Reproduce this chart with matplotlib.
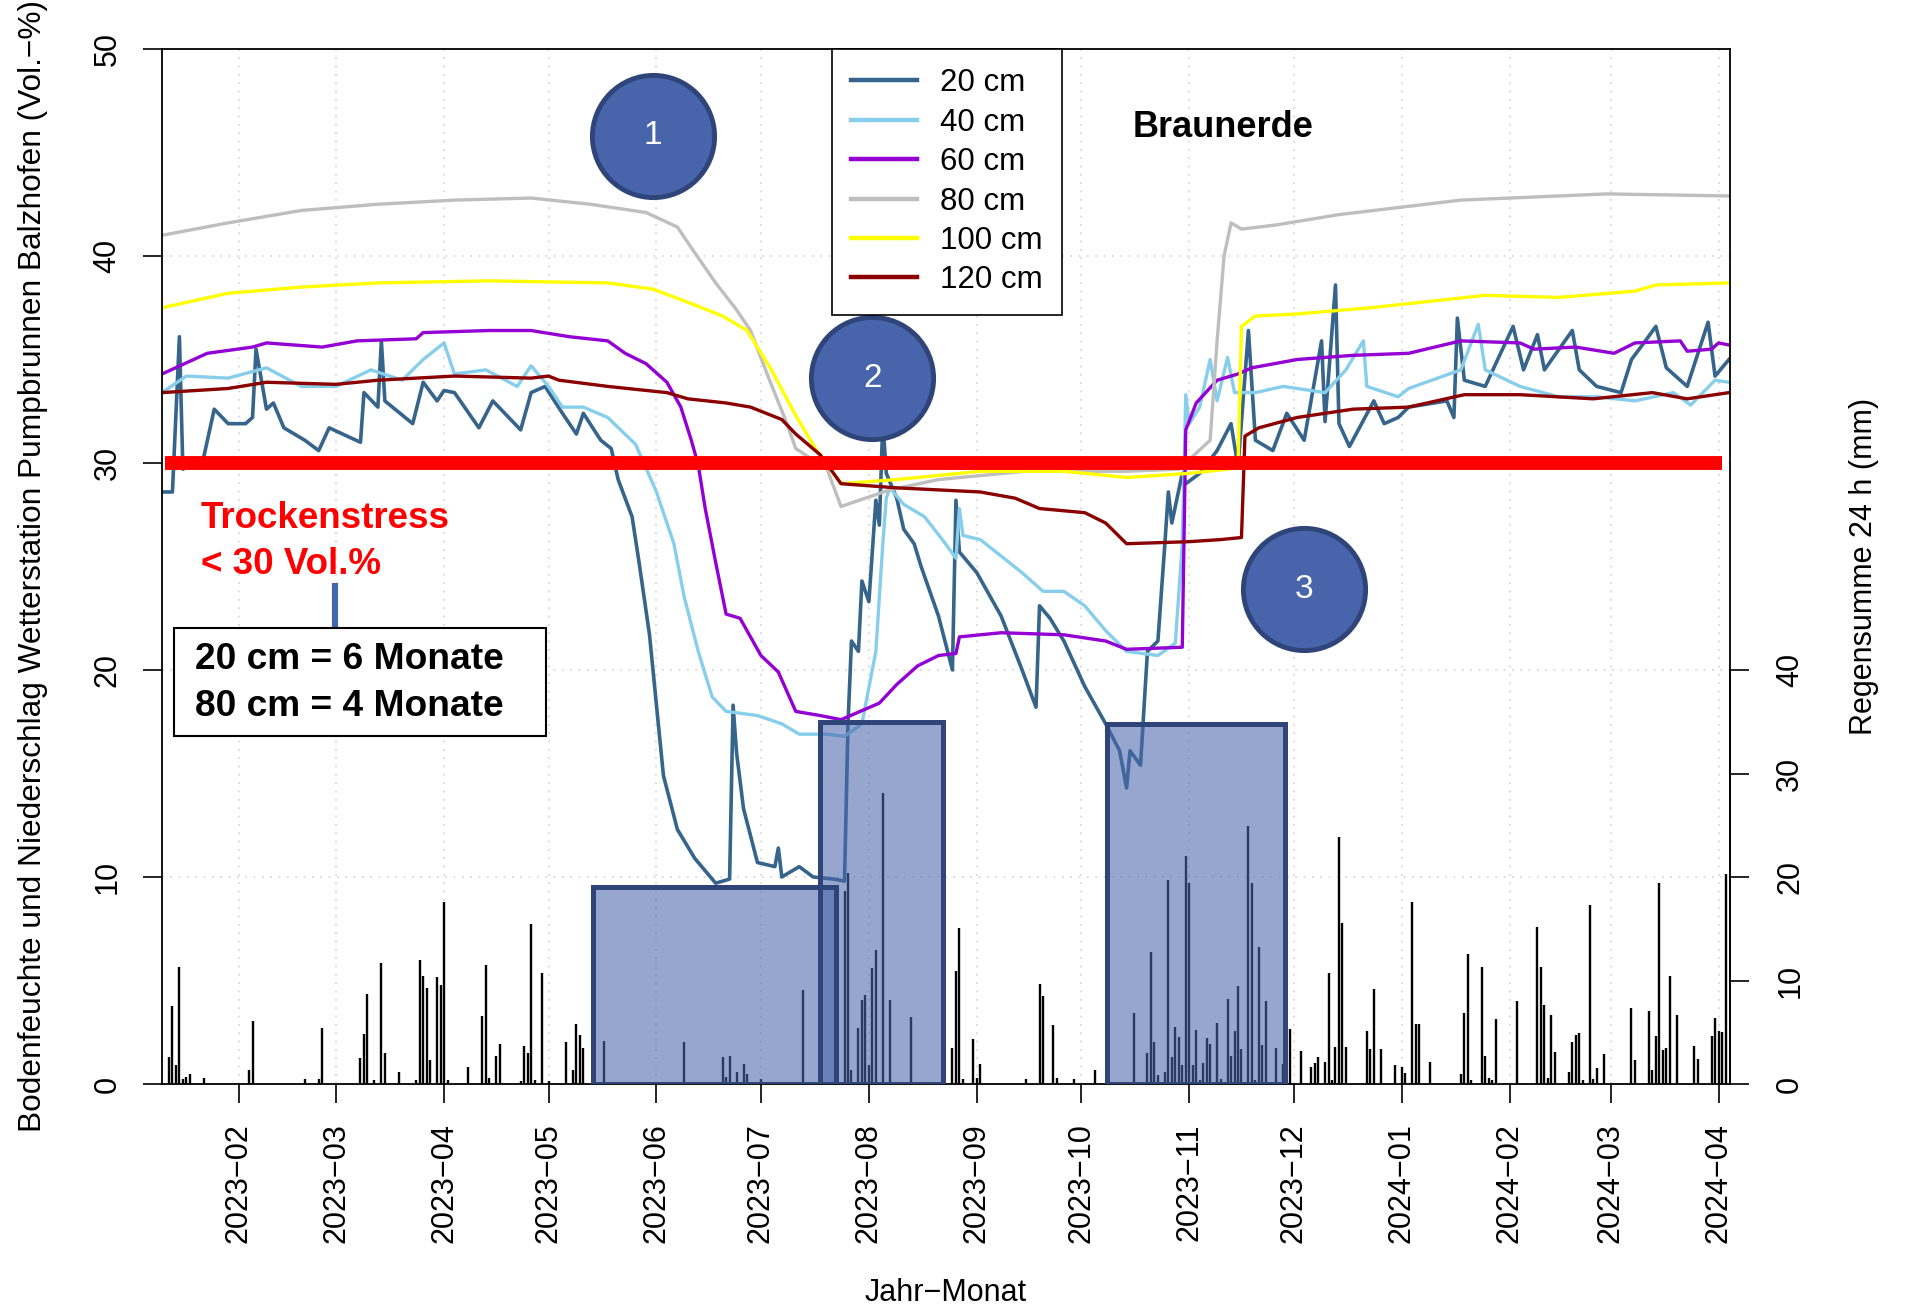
import matplotlib
matplotlib.use("Agg")
import matplotlib.pyplot as plt
import matplotlib.dates as mdates
import pandas as pd
from matplotlib.patches import Rectangle
from matplotlib.lines import Line2D

plt.rcParams['font.family'] = ['Liberation Sans', 'DejaVu Sans']

# ---------------- soil moisture (Vol.-%) ----------------
d20 = ["2023-01-10", "2023-01-13", "2023-01-15", "2023-01-16", "2023-01-22", "2023-01-25", "2023-01-29",
       "2023-02-03", "2023-02-05", "2023-02-06", "2023-02-09", "2023-02-11", "2023-02-14", "2023-02-20",
       "2023-02-24", "2023-02-27", "2023-03-08", "2023-03-09", "2023-03-13", "2023-03-14", "2023-03-15",
       "2023-03-23", "2023-03-26", "2023-03-30", "2023-04-01", "2023-04-04", "2023-04-11", "2023-04-15",
       "2023-04-23", "2023-04-26", "2023-04-30", "2023-05-05", "2023-05-09", "2023-05-11", "2023-05-16",
       "2023-05-19", "2023-05-21", "2023-05-25", "2023-05-27", "2023-05-30", "2023-06-01", "2023-06-03",
       "2023-06-07", "2023-06-12", "2023-06-18", "2023-06-22", "2023-06-23", "2023-06-24", "2023-06-26",
       "2023-06-30", "2023-07-05", "2023-07-06", "2023-07-07", "2023-07-12", "2023-07-16", "2023-07-22",
       "2023-07-25", "2023-07-26", "2023-07-27", "2023-07-29", "2023-07-30", "2023-08-01", "2023-08-03",
       "2023-08-04", "2023-08-05", "2023-08-06", "2023-08-09", "2023-08-11", "2023-08-14", "2023-08-16",
       "2023-08-21", "2023-08-25", "2023-08-26", "2023-08-27", "2023-09-01", "2023-09-08", "2023-09-14",
       "2023-09-18", "2023-09-19", "2023-09-22", "2023-09-26", "2023-10-02", "2023-10-08", "2023-10-12",
       "2023-10-14", "2023-10-15", "2023-10-18", "2023-10-20", "2023-10-23", "2023-10-25", "2023-10-26",
       "2023-10-27", "2023-10-30", "2023-10-31", "2023-11-04", "2023-11-09", "2023-11-13", "2023-11-15",
       "2023-11-18", "2023-11-20", "2023-11-25", "2023-11-29", "2023-12-04", "2023-12-09", "2023-12-10",
       "2023-12-13", "2023-12-14", "2023-12-17", "2023-12-24", "2023-12-27", "2023-12-31", "2024-01-03",
       "2024-01-14", "2024-01-16", "2024-01-17", "2024-01-19", "2024-01-25", "2024-02-02", "2024-02-05",
       "2024-02-09", "2024-02-11", "2024-02-19", "2024-02-21", "2024-02-26", "2024-03-04", "2024-03-07",
       "2024-03-11", "2024-03-14", "2024-03-17", "2024-03-23", "2024-03-29", "2024-03-31", "2024-04-04"]
v20 = [28.6, 28.6, 36.1, 29.7, 30.3, 32.6, 31.9,
       31.9, 32.2, 35.5, 32.6, 32.9, 31.7, 31.1,
       30.6, 31.7, 31.0, 33.4, 32.7, 35.9, 33.0,
       31.9, 33.9, 33.0, 33.5, 33.4, 31.7, 33.0,
       31.6, 33.4, 33.7, 32.4, 31.4, 32.4, 31.1,
       30.7, 29.2, 27.4, 25.2, 21.7, 18.3, 14.9,
       12.3, 10.9, 9.7, 9.9, 18.3, 16.0, 13.3,
       10.7, 10.5, 11.4, 10.0, 10.5, 10.0, 9.9,
       9.8, 17.4, 21.4, 20.9, 24.3, 23.3, 28.2,
       27.0, 32.0, 29.5, 28.3, 26.8, 26.1, 25.0,
       22.6, 20.0, 28.2, 25.7, 24.7, 22.6, 20.0,
       18.2, 23.1, 22.5, 21.4, 19.2, 17.4, 16.1,
       14.3, 16.1, 15.4, 20.9, 21.4, 26.1, 28.6,
       27.1, 29.5, 29.0, 29.5, 30.6, 31.9, 29.8,
       36.4, 31.1, 30.6, 32.4, 31.1, 35.9, 32.0,
       38.6, 31.9, 30.8, 33.0, 31.9, 32.2, 32.7,
       33.0, 32.2, 37.0, 34.0, 33.7, 36.6, 34.5,
       36.2, 34.5, 36.4, 34.5, 33.7, 33.4, 35.0,
       35.9, 36.6, 34.6, 33.7, 36.8, 34.2, 35.0]

d40 = ["2023-01-10", "2023-01-17", "2023-01-29", "2023-02-09", "2023-02-19", "2023-03-01", "2023-03-11",
       "2023-03-20", "2023-03-26", "2023-04-01", "2023-04-04", "2023-04-13", "2023-04-22", "2023-04-26",
       "2023-05-01", "2023-05-05", "2023-05-11", "2023-05-18", "2023-05-26", "2023-06-01", "2023-06-06",
       "2023-06-09", "2023-06-13", "2023-06-17", "2023-06-21", "2023-06-30", "2023-07-07", "2023-07-12",
       "2023-07-20", "2023-07-25", "2023-07-30", "2023-08-03", "2023-08-05", "2023-08-06", "2023-08-07",
       "2023-08-11", "2023-08-17", "2023-08-23", "2023-08-26", "2023-08-27", "2023-08-28", "2023-09-02",
       "2023-09-14", "2023-09-20", "2023-09-26", "2023-10-02", "2023-10-08", "2023-10-14", "2023-10-23",
       "2023-10-28", "2023-10-30", "2023-10-31", "2023-11-01", "2023-11-04", "2023-11-07", "2023-11-09",
       "2023-11-12", "2023-11-14", "2023-11-20", "2023-11-28", "2023-12-10", "2023-12-16", "2023-12-21",
       "2023-12-22", "2023-12-31", "2024-01-03", "2024-01-18", "2024-01-23", "2024-01-25", "2024-02-04",
       "2024-02-15", "2024-02-26", "2024-03-08", "2024-03-19", "2024-03-24", "2024-03-31", "2024-04-04"]
v40 = [33.4, 34.2, 34.1, 34.6, 33.7, 33.7, 34.5,
       34.0, 35.0, 35.8, 34.3, 34.5, 33.7, 34.7,
       33.7, 32.7, 32.7, 32.2, 30.9, 28.6, 26.1,
       23.5, 20.9, 18.7, 18.0, 17.8, 17.4, 16.9,
       16.9, 16.8, 17.4, 20.9, 26.1, 28.3, 28.8,
       28.0, 27.4, 26.1, 25.4, 27.8, 26.5, 26.3,
       24.7, 23.8, 23.8, 23.1, 21.9, 20.9, 20.7,
       21.3, 26.1, 33.3, 31.9, 32.7, 35.0, 33.0,
       35.1, 33.4, 33.4, 33.7, 33.4, 34.5, 35.9,
       33.7, 33.2, 33.6, 34.5, 36.7, 34.5, 33.7,
       33.2, 33.2, 33.0, 33.4, 32.8, 34.0, 33.9]

d60 = ["2023-01-10", "2023-01-23", "2023-02-05", "2023-02-09", "2023-02-25", "2023-03-07", "2023-03-24",
       "2023-03-26", "2023-04-14", "2023-04-26", "2023-05-07", "2023-05-18", "2023-05-23", "2023-05-29",
       "2023-06-04", "2023-06-08", "2023-06-11", "2023-06-13", "2023-06-15", "2023-06-18", "2023-06-21",
       "2023-06-25", "2023-07-01", "2023-07-06", "2023-07-11", "2023-07-18", "2023-07-24", "2023-08-04",
       "2023-08-09", "2023-08-15", "2023-08-21", "2023-08-26", "2023-08-27", "2023-09-08", "2023-09-26",
       "2023-10-08", "2023-10-14", "2023-10-30", "2023-10-31", "2023-11-03", "2023-11-09", "2023-11-15",
       "2023-11-19", "2023-12-02", "2023-12-18", "2024-01-03", "2024-01-18", "2024-02-04", "2024-02-08",
       "2024-02-20", "2024-03-02", "2024-03-08", "2024-03-21", "2024-03-23", "2024-03-30", "2024-04-01",
       "2024-04-04"]
v60 = [34.3, 35.3, 35.6, 35.8, 35.6, 35.9, 36.0,
       36.3, 36.4, 36.4, 36.1, 35.9, 35.3, 34.8,
       33.9, 32.7, 31.1, 29.9, 27.8, 25.2, 22.7,
       22.5, 20.7, 19.9, 18.0, 17.8, 17.6, 18.4,
       19.3, 20.2, 20.7, 20.8, 21.6, 21.8, 21.7,
       21.4, 21.0, 21.1, 31.6, 32.9, 34.0, 34.3,
       34.6, 35.0, 35.2, 35.3, 35.9, 35.8, 35.5,
       35.6, 35.3, 35.8, 35.9, 35.4, 35.5, 35.8,
       35.7]

d80 = ["2023-01-10", "2023-01-29", "2023-02-19", "2023-03-13", "2023-04-04", "2023-04-26", "2023-05-13",
       "2023-05-29", "2023-06-07", "2023-06-11", "2023-06-18", "2023-06-24", "2023-06-28", "2023-07-03",
       "2023-07-08", "2023-07-11", "2023-07-20", "2023-07-24", "2023-08-07", "2023-08-21", "2023-09-15",
       "2023-10-14", "2023-10-29", "2023-11-07", "2023-11-09", "2023-11-11", "2023-11-13", "2023-11-16",
       "2023-11-26", "2023-12-14", "2024-01-18", "2024-02-29", "2024-04-04"]
v80 = [41.0, 41.6, 42.2, 42.5, 42.7, 42.8, 42.5,
       42.1, 41.4, 40.4, 38.7, 37.4, 36.4, 34.2,
       32.1, 30.7, 29.7, 27.9, 28.7, 29.2, 29.6,
       29.6, 29.7, 31.1, 35.9, 40.0, 41.6, 41.3,
       41.5, 42.0, 42.7, 43.0, 42.9]

d100 = ["2023-01-10", "2023-01-29", "2023-02-19", "2023-03-13", "2023-04-14", "2023-05-18", "2023-05-31",
        "2023-06-11", "2023-06-20", "2023-06-27", "2023-07-04", "2023-07-11", "2023-07-17", "2023-07-24",
        "2023-08-09", "2023-09-02", "2023-09-26", "2023-10-14", "2023-11-01", "2023-11-12", "2023-11-15",
        "2023-11-16", "2023-11-20", "2023-12-02", "2023-12-23", "2024-01-25", "2024-02-15", "2024-03-08",
        "2024-03-14", "2024-04-04"]
v100 = [37.5, 38.2, 38.5, 38.7, 38.8, 38.7, 38.4,
        37.7, 37.1, 36.4, 34.5, 32.3, 30.6, 29.0,
        29.2, 29.6, 29.6, 29.3, 29.5, 29.7, 29.8,
        36.6, 37.1, 37.2, 37.5, 38.1, 38.0, 38.3,
        38.6, 38.7]

d120 = ["2023-01-10", "2023-01-29", "2023-02-09", "2023-03-01", "2023-03-13", "2023-04-04", "2023-04-26",
        "2023-05-01", "2023-05-04", "2023-05-18", "2023-06-04", "2023-06-10", "2023-06-21", "2023-06-28",
        "2023-07-07", "2023-07-11", "2023-07-18", "2023-07-24", "2023-08-09", "2023-09-02", "2023-09-12",
        "2023-09-19", "2023-10-02", "2023-10-08", "2023-10-14", "2023-11-01", "2023-11-10", "2023-11-16",
        "2023-11-17", "2023-11-21", "2023-12-02", "2023-12-18", "2024-01-03", "2024-01-19", "2024-02-04",
        "2024-02-25", "2024-03-13", "2024-03-23", "2024-04-04"]
v120 = [33.4, 33.6, 33.9, 33.8, 34.0, 34.2, 34.1,
        34.2, 34.0, 33.7, 33.4, 33.1, 32.9, 32.7,
        32.1, 31.4, 30.4, 29.0, 28.8, 28.6, 28.3,
        27.8, 27.6, 27.1, 26.1, 26.2, 26.3, 26.4,
        31.3, 31.7, 32.2, 32.6, 32.7, 33.3, 33.3,
        33.1, 33.4, 33.1, 33.4]

depth_labels = ["20 cm", "40 cm", "60 cm", "80 cm", "100 cm", "120 cm"]
depth_colors = ["#36648B", "#87CEEB", "#9400D3", "#BEBEBE", "#FFFF00", "#8B0000"]

# ---------------- daily precipitation (mm) ----------------
rain_dates = ["2023-01-12", "2023-01-13", "2023-01-14", "2023-01-15", "2023-01-16", "2023-01-17", "2023-01-18",
              "2023-01-22", "2023-02-04", "2023-02-05", "2023-02-20", "2023-02-24", "2023-02-25", "2023-03-08",
              "2023-03-09", "2023-03-10", "2023-03-12", "2023-03-14", "2023-03-15", "2023-03-19", "2023-03-24",
              "2023-03-25", "2023-03-26", "2023-03-27", "2023-03-28", "2023-03-30", "2023-03-31", "2023-04-01",
              "2023-04-02", "2023-04-08", "2023-04-12", "2023-04-13", "2023-04-14", "2023-04-16", "2023-04-17",
              "2023-04-23", "2023-04-24", "2023-04-25", "2023-04-26", "2023-04-27", "2023-04-29", "2023-05-01",
              "2023-05-06", "2023-05-08", "2023-05-09", "2023-05-10", "2023-05-11", "2023-05-17", "2023-06-09",
              "2023-06-20", "2023-06-21", "2023-06-22", "2023-06-24", "2023-06-26", "2023-06-27", "2023-07-01",
              "2023-07-13", "2023-07-25", "2023-07-26", "2023-07-27", "2023-07-29", "2023-07-30", "2023-07-31",
              "2023-08-01", "2023-08-02", "2023-08-03", "2023-08-05", "2023-08-07", "2023-08-13", "2023-08-25",
              "2023-08-26", "2023-08-27", "2023-08-28", "2023-08-31", "2023-09-01", "2023-09-02", "2023-09-15",
              "2023-09-19", "2023-09-20", "2023-09-23", "2023-09-24", "2023-09-29", "2023-10-05", "2023-10-16",
              "2023-10-20", "2023-10-21", "2023-10-22", "2023-10-23", "2023-10-25", "2023-10-26", "2023-10-27",
              "2023-10-28", "2023-10-29", "2023-10-30", "2023-10-31", "2023-11-01", "2023-11-02", "2023-11-03",
              "2023-11-04", "2023-11-05", "2023-11-06", "2023-11-07", "2023-11-09", "2023-11-10", "2023-11-12",
              "2023-11-13", "2023-11-14", "2023-11-15", "2023-11-16", "2023-11-18", "2023-11-19", "2023-11-20",
              "2023-11-21", "2023-11-22", "2023-11-23", "2023-11-26", "2023-11-28", "2023-11-30", "2023-12-03",
              "2023-12-06", "2023-12-07", "2023-12-08", "2023-12-10", "2023-12-11", "2023-12-12", "2023-12-13",
              "2023-12-14", "2023-12-15", "2023-12-16", "2023-12-22", "2023-12-23", "2023-12-24", "2023-12-26",
              "2023-12-30", "2024-01-01", "2024-01-02", "2024-01-04", "2024-01-05", "2024-01-06", "2024-01-09",
              "2024-01-18", "2024-01-19", "2024-01-20", "2024-01-21", "2024-01-24", "2024-01-25", "2024-01-26",
              "2024-01-27", "2024-01-28", "2024-02-03", "2024-02-09", "2024-02-10", "2024-02-11", "2024-02-12",
              "2024-02-13", "2024-02-14", "2024-02-18", "2024-02-19", "2024-02-20", "2024-02-21", "2024-02-22",
              "2024-02-24", "2024-02-25", "2024-02-26", "2024-02-28", "2024-03-07", "2024-03-08", "2024-03-12",
              "2024-03-13", "2024-03-14", "2024-03-15", "2024-03-16", "2024-03-17", "2024-03-18", "2024-03-20",
              "2024-03-25", "2024-03-26", "2024-03-30", "2024-03-31", "2024-04-01", "2024-04-02", "2024-04-03"]
rain_mm = [2.6, 7.5, 1.8, 11.3, 0.5, 0.7, 1.0,
           0.6, 1.4, 6.1, 0.5, 0.5, 5.4, 2.5,
           4.8, 8.7, 0.4, 11.7, 3.0, 1.2, 0.4,
           12.0, 10.4, 9.3, 2.3, 10.3, 9.6, 17.6,
           0.4, 1.6, 6.6, 11.5, 0.6, 2.7, 3.9,
           0.3, 3.7, 3.0, 15.5, 0.4, 10.7, 0.3,
           4.1, 1.4, 5.8, 4.7, 3.5, 4.2, 4.1,
           2.6, 0.7, 2.7, 1.2, 1.9, 1.0, 0.5,
           9.1, 18.6, 20.4, 1.4, 5.4, 8.1, 8.6,
           1.8, 11.2, 12.9, 28.1, 8.1, 6.5, 3.5,
           10.9, 15.1, 0.5, 4.3, 0.6, 1.9, 0.5,
           9.7, 8.5, 5.7, 0.6, 0.5, 1.4, 6.9,
           3.0, 12.8, 4.1, 0.9, 1.2, 19.7, 2.6,
           5.5, 4.5, 1.8, 22.0, 19.4, 1.8, 5.2,
           0.4, 2.0, 4.4, 3.9, 5.9, 0.5, 8.2,
           2.7, 5.1, 9.5, 3.4, 24.9, 19.4, 0.4,
           13.2, 3.8, 8.0, 3.5, 1.9, 5.3, 3.2,
           1.6, 2.0, 2.6, 2.1, 10.7, 0.4, 3.6,
           23.9, 15.6, 3.6, 5.1, 3.4, 9.2, 3.4,
           1.8, 1.6, 1.1, 17.6, 5.8, 5.8, 2.1,
           1.0, 6.9, 12.6, 0.4, 11.3, 2.7, 0.6,
           0.4, 6.3, 8.0, 15.2, 11.3, 7.6, 0.6,
           6.7, 3.1, 1.2, 4.1, 4.7, 4.9, 0.4,
           17.3, 0.5, 1.5, 2.9, 7.3, 2.3, 7.1,
           1.4, 4.6, 19.4, 3.3, 3.5, 10.4, 6.7,
           3.7, 2.4, 4.6, 6.4, 5.1, 5.0, 20.3]

# ---------------- highlighted dry periods and markers ----------------
period_start = ["2023-05-13 18:00", "2023-07-18 00:00", "2023-10-08 08:00"]
period_end = ["2023-07-22 14:00", "2023-08-22 06:00", "2023-11-28 12:00"]
period_top = [9.5, 17.5, 17.4]

marker_dates = ["2023-05-31", "2023-08-02", "2023-12-04"]
marker_vals = [45.8, 34.1, 23.9]
marker_text = ["1", "2", "3"]

threshold = 30
threshold_span = ["2023-01-11", "2024-04-02"]

month_ticks = pd.date_range("2023-02-01", "2024-04-01", freq="MS")
tick_labels = [f"{t.year}\u2212{t.month:02d}" for t in month_ticks]

# ---------------- figure ----------------
W, H = 1910, 1310
fig = plt.figure(figsize=(W / 100, H / 100), dpi=100)
fig.patch.set_facecolor("white")
L, R, T, B = 162, 1730, 49, 1084
ax2 = fig.add_axes([L / W, 1 - B / H, (R - L) / W, (B - T) / H])
ax = fig.add_axes([L / W, 1 - B / H, (R - L) / W, (B - T) / H], sharex=ax2)
ax2.set_zorder(0)
ax.set_zorder(1)
ax.patch.set_visible(False)

xmin = pd.Timestamp("2023-01-10 00:00")
xmax = pd.Timestamp("2024-04-04 07:00")
ax.set_xlim(xmin, xmax)
ax.set_ylim(0, 50)
ax2.set_ylim(0, 100)

# dotted grid underneath everything (right-hand axis is the lowest layer)
for t in month_ticks:
    ax2.axvline(t, color="#D3D3D3", lw=1.2, ls=(0, (1, 4)), zorder=0.5)
for yv in [10, 20, 30, 40]:
    ax2.axhline(yv * 2, color="#D3D3D3", lw=1.2, ls=(0, (1, 4)), zorder=0.5)

# precipitation bars on the right-hand scale
ax2.vlines(pd.to_datetime(rain_dates), 0, rain_mm, color="black", lw=1.7, zorder=1)
ax2.yaxis.tick_right()
ax2.set_yticks([0, 10, 20, 30, 40])
ax2.set_yticklabels(["0", "10", "20", "30", "40"], rotation=90, va="center", ha="left")
ax2.tick_params(axis="y", length=13.5, width=1.2, pad=19, labelsize=22, direction="out")
for side in ["left", "top", "bottom"]:
    ax2.spines[side].set_visible(False)
ax2.spines["right"].set_bounds(0, 40)
ax2.spines["right"].set_linewidth(1.2)
ax2.tick_params(axis="x", bottom=False, labelbottom=False)

# soil moisture lines
series = [(d20, v20), (d40, v40), (d60, v60), (d80, v80), (d100, v100), (d120, v120)]
for (dd, vv), col, lab in zip(series, depth_colors, depth_labels):
    ax.plot(pd.to_datetime(dd), vv, color=col, lw=2.6 if lab == "20 cm" else 2.4,
            solid_joinstyle="round", zorder=2, label=lab)

# drought threshold
ax.hlines(threshold, pd.Timestamp(threshold_span[0]), pd.Timestamp(threshold_span[1]),
          color="#FF0000", lw=10, zorder=3, capstyle="butt")

# dry periods
for s, e, top in zip(period_start, period_end, period_top):
    x0 = mdates.date2num(pd.Timestamp(s))
    x1 = mdates.date2num(pd.Timestamp(e))
    ax.add_patch(Rectangle((x0, 0), x1 - x0, top, facecolor="#4A66AB", alpha=0.58,
                           edgecolor="none", zorder=4))
    ax.add_patch(Rectangle((x0, 0), x1 - x0, top, facecolor="none",
                           edgecolor="#2F4479", lw=3.6, zorder=4.1, joinstyle="miter"))

# numbered markers
for dte, val, txt in zip(marker_dates, marker_vals, marker_text):
    ax.plot([pd.Timestamp(dte)], [val], marker="o", ms=88, mfc="#4864AA", mec="#2F4479",
            mew=3.5, ls="none", zorder=6)
    ax.text(pd.Timestamp(dte), val, txt, color="white", fontsize=24, ha="center",
            va="center", zorder=7)

# axes styling
ax.set_xticks(month_ticks)
ax.set_xticklabels(tick_labels, rotation=90, ha="center", va="top")
ax.tick_params(axis="x", length=13.5, width=1.2, pad=15, labelsize=22, direction="out")
ax.set_yticks([0, 10, 20, 30, 40, 50])
ax.set_yticklabels(["0", "10", "20", "30", "40", "50"], rotation=90, va="center", ha="right")
ax.tick_params(axis="y", length=13.5, width=1.2, pad=15, labelsize=22, direction="out")
for sp in ax.spines.values():
    sp.set_linewidth(1.3)
    sp.set_color("black")

# legend
handles = [Line2D([0], [0], color=c, lw=3.2) for c in depth_colors]
leg = ax.legend(handles, depth_labels, loc="upper left", bbox_to_anchor=(0.4273, 1.0),
                fontsize=22.5, frameon=True, fancybox=False, edgecolor="black", framealpha=1,
                handlelength=2.1, handletextpad=0.75, labelspacing=0.3, borderpad=0.62,
                borderaxespad=0)
leg.get_frame().set_linewidth(1.2)
leg.set_zorder(8)

ax.text(0.6767, 0.9237, "Braunerde", transform=ax.transAxes, fontsize=26,
        fontweight="bold", ha="center", va="center", zorder=8)

# drought annotation
ax.text(0.0249, 0.546, "Trockenstress", transform=ax.transAxes, color="#FF0000",
        fontsize=26.5, fontweight="bold", ha="left", va="center", zorder=8)
ax.text(0.0249, 0.5024, "< 30 Vol.%", transform=ax.transAxes, color="#FF0000",
        fontsize=26.5, fontweight="bold", ha="left", va="center", zorder=8)
ax.plot([0.1103, 0.1103], [0.4415, 0.4842], transform=ax.transAxes, color="#4468B0",
        lw=4.4, solid_capstyle="butt", zorder=8)
ax.add_patch(Rectangle((0.0077, 0.3362), 0.2372, 0.1044, transform=ax.transAxes,
                       facecolor="white", edgecolor="black", lw=1.5, zorder=8))
ax.text(0.021, 0.4097, "20 cm = 6 Monate", transform=ax.transAxes, fontsize=26.7,
        fontweight="bold", ha="left", va="center", zorder=9)
ax.text(0.021, 0.3652, "80 cm = 4 Monate", transform=ax.transAxes, fontsize=26.7,
        fontweight="bold", ha="left", va="center", zorder=9)

# axis titles
fig.text(33 / W, 1 - 566 / H,
         "Bodenfeuchte und Niederschlag Wetterstation Pumpbrunnen Balzhofen (Vol.\u2212%)",
         rotation=90, ha="center", va="center", fontsize=22.8)
fig.text(1864 / W, 1 - 566 / H, "Regensumme 24 h (mm)", rotation=90, ha="center",
         va="center", fontsize=22)
fig.text(946 / W, 1 - 1293 / H, "Jahr\u2212Monat", ha="center", va="center", fontsize=22)

fig.savefig("out.png", dpi=100, facecolor="white")
